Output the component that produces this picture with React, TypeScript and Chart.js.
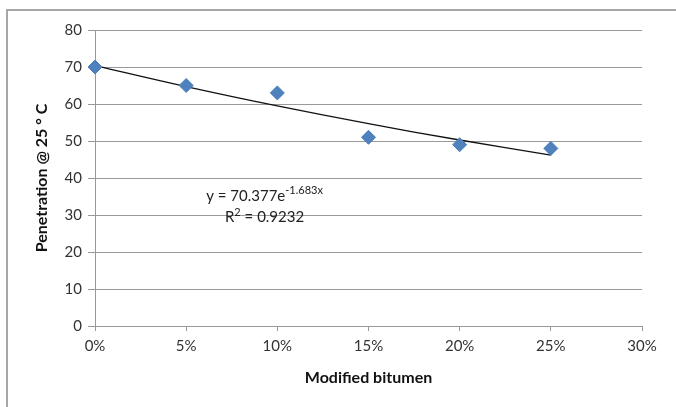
import React, { useEffect, useRef } from "react";
import { Chart, registerables } from "chart.js";

Chart.register(...registerables);

const xValues = [0, 0.05, 0.1, 0.15, 0.2, 0.25];
const penetration = [70, 65, 63, 51, 49, 48];
const trendValues = [70.38, 64.7, 59.48, 54.68, 50.27, 46.21];
const eqMain = "y = 70.377e";
const eqSup = "-1.683x";
const r2Main = "R";
const r2Sup = "2";
const r2Rest = " = 0.9232";
const eqAnchor = { x: 0.093, y: 35 };
const r2Anchor = { x: 0.093, y: 29.3 };

const FONT = "Lato, 'Open Sans', sans-serif";

const annotationPlugin = {
  id: "trendLabel",
  afterDatasetsDraw(chart: any) {
    const { ctx, scales } = chart;
    const xs = scales.x;
    const ys = scales.y;
    ctx.save();
    ctx.fillStyle = "#222";
    ctx.textBaseline = "middle";
    const mainFont = `15px ${FONT}`;
    const supFont = `11px ${FONT}`;
    ctx.font = mainFont;
    const w1 = ctx.measureText(eqMain).width;
    ctx.font = supFont;
    const w2 = ctx.measureText(eqSup).width;
    let cx = xs.getPixelForValue(eqAnchor.x);
    let cy = ys.getPixelForValue(eqAnchor.y);
    let sx = cx - (w1 + w2) / 2;
    ctx.font = mainFont;
    ctx.textAlign = "left";
    ctx.fillText(eqMain, sx, cy);
    ctx.font = supFont;
    ctx.fillText(eqSup, sx + w1, cy - 6);
    ctx.font = mainFont;
    const a = ctx.measureText(r2Main).width;
    const c = ctx.measureText(r2Rest).width;
    ctx.font = supFont;
    const b = ctx.measureText(r2Sup).width;
    cx = xs.getPixelForValue(r2Anchor.x);
    cy = ys.getPixelForValue(r2Anchor.y);
    sx = cx - (a + b + c) / 2;
    ctx.font = mainFont;
    ctx.fillText(r2Main, sx, cy);
    ctx.font = supFont;
    ctx.fillText(r2Sup, sx + a, cy - 5);
    ctx.font = mainFont;
    ctx.fillText(r2Rest, sx + a + b, cy);
    ctx.restore();
  },
};

export default function App() {
  const ref = useRef<HTMLCanvasElement | null>(null);

  useEffect(() => {
    document.body.style.margin = "0";
    const canvas = ref.current;
    if (!canvas) return;
    const chart = new Chart(canvas, {
      type: "scatter",
      data: {
        datasets: [
          {
            label: "Penetration",
            data: xValues.map((x, i) => ({ x, y: penetration[i] })),
            pointStyle: "rectRot",
            pointRadius: 7,
            pointHoverRadius: 7,
            backgroundColor: "#4F81BD",
            borderColor: "#4A7EBB",
            borderWidth: 1,
            showLine: false,
            clip: false,
            order: 1,
          },
          {
            label: "Trend",
            type: "line",
            data: xValues.map((x, i) => ({ x, y: trendValues[i] })),
            borderColor: "#111",
            borderWidth: 1.3,
            pointRadius: 0,
            tension: 0.4,
            fill: false,
            clip: false,
            order: 2,
          } as any,
        ],
      },
      options: {
        animation: false,
        responsive: false,
        events: [],
        layout: { padding: { left: 0, top: 30, right: 34, bottom: 0 } },
        plugins: {
          legend: { display: false },
          tooltip: { enabled: false },
        },
        scales: {
          x: {
            type: "linear",
            min: 0,
            max: 0.3,
            afterFit: (s: any) => {
              s.height = 81;
            },
            ticks: {
              stepSize: 0.05,
              color: "#333",
              padding: 6,
              font: { family: FONT, size: 15 },
              callback: (v: any) => `${Math.round(Number(v) * 100)}%`,
            },
            grid: {
              drawOnChartArea: false,
              drawTicks: true,
              tickLength: 5,
              color: "#999",
            },
            border: { display: true, color: "#999" },
            title: {
              display: true,
              text: "Modified bitumen",
              color: "#111",
              font: { family: FONT, size: 16, weight: "bold" },
              padding: { top: 0, bottom: 20 },
            },
          },
          y: {
            min: 0,
            max: 80,
            afterFit: (s: any) => {
              s.width = 95;
            },
            ticks: {
              stepSize: 10,
              color: "#333",
              padding: 6,
              font: { family: FONT, size: 15 },
            },
            grid: {
              color: "#999",
              tickLength: 7,
            },
            border: { display: true, color: "#999" },
            title: {
              display: true,
              text: "Penetration @ 25 ° C",
              color: "#111",
              font: { family: FONT, size: 16, weight: "bold" },
              padding: { top: 32, bottom: 0 },
            },
          },
        },
      },
      plugins: [annotationPlugin],
    } as any);
    return () => chart.destroy();
  }, []);

  return (
    <div style={{ position: "relative", width: 676, height: 407, background: "#fff" }}>
      <div
        style={{
          position: "absolute",
          left: 6,
          top: 9,
          right: 0,
          bottom: 0,
          borderTop: "2px solid #a6a6a6",
          borderLeft: "2px solid #a6a6a6",
          pointerEvents: "none",
        }}
      />
      <canvas ref={ref} width={676} height={407} style={{ position: "absolute", left: 0, top: 0 }} />
    </div>
  );
}
